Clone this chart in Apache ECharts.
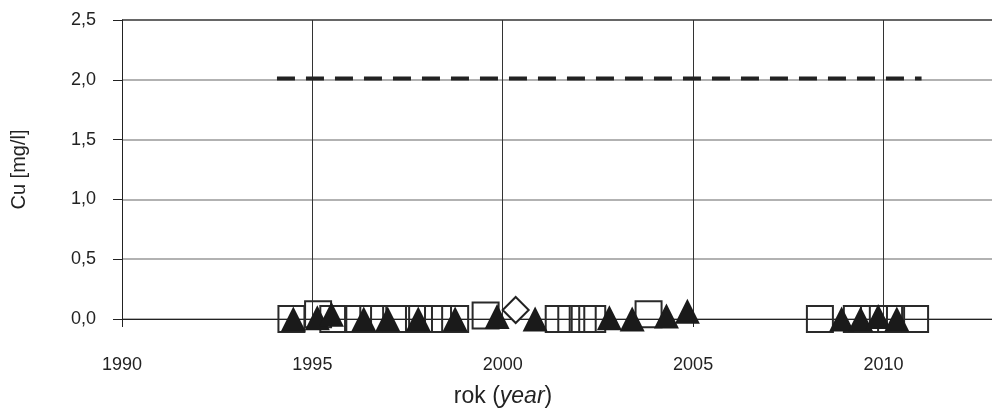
<!DOCTYPE html>
<html>
<head>
<meta charset="utf-8">
<script src="https://cdn.jsdelivr.net/npm/echarts@6/dist/echarts.min.js"></script>
<style>
  html, body { margin: 0; padding: 0; background: #fff; }
  #chart { width: 992px; height: 409px; }
</style>
</head>
<body>
<div id="chart"></div>
<script>
const squareYears = [1994.45, 1995.15, 1995.55, 1996.2, 1996.6, 1997.2, 1997.8, 1998.3, 1998.75, 1999.55,
                     2001.47, 2001.8, 2002.1, 2002.35, 2003.83, 2008.33, 2009.3, 2009.75, 2010.2, 2010.83];
const squareVals  = [0, 0.04, 0, 0, 0, 0, 0, 0, 0, 0.03,
                     0, 0, 0, 0, 0.04, 0, 0, 0, 0, 0];
const triangleYears = [1994.5, 1995.13, 1995.5, 1996.35, 1996.98, 1997.78, 1998.75, 1999.85, 2000.85,
                       2002.8, 2003.4, 2004.3, 2004.85, 2008.9, 2009.4, 2009.86, 2010.35];
const triangleVals  = [0, 0.01, 0.04, 0, 0, 0, 0, 0.02, 0,
                       0.01, 0, 0.025, 0.065, 0, 0, 0.02, 0];
const diamondYears = [2000.34];
const diamondVals  = [0.075];
// limit value line
const limitYears = [1994.07, 2011.0];
const limitVals  = [2.01, 2.01];

const pairs = (xs, ys) => xs.map((x, i) => [x, ys[i]]);
const font = 'Liberation Sans, Arial, sans-serif';

var myChart = echarts.init(document.getElementById('chart'));
myChart.setOption({
    animation: false,
    grid: { left: 122, right: 0, top: 20, bottom: 90 },
    xAxis: {
        type: 'value',
        min: 1990, max: 2012.85, interval: 5,
        axisLine: { onZero: false, lineStyle: { color: '#222', width: 1 } },
        axisTick: { show: true, length: 8, lineStyle: { color: '#222' } },
        axisLabel: {
            margin: 37, color: '#222', fontSize: 18, fontFamily: font,
            showMaxLabel: false,
            formatter: v => (v % 5 === 0 ? String(v) : '')
        },
        splitLine: { show: true, showMaxLine: false, lineStyle: { color: '#333', width: 1 } }
    },
    yAxis: {
        type: 'value',
        min: 0, max: 2.5, interval: 0.5,
        name: 'Cu [mg/l]',
        nameLocation: 'middle',
        nameGap: 93,
        nameTextStyle: { color: '#222', fontSize: 20, fontFamily: font },
        axisLine: { show: true, lineStyle: { color: '#222', width: 1 } },
        axisTick: { show: true, length: 9, lineStyle: { color: '#222' } },
        axisLabel: {
            margin: 26, color: '#222', fontSize: 18, fontFamily: font,
            formatter: v => v.toFixed(1).replace('.', ',')
        },
        splitLine: {
            show: true,
            lineStyle: { color: ['#999', '#999', '#999', '#999', '#999', '#333'], width: 1.5 }
        }
    },
    graphic: [{
        type: 'text',
        x: 503, y: 397,
        style: {
            text: 'rok ({i|year})',
            align: 'center', verticalAlign: 'middle',
            fill: '#222', fontSize: 23, fontFamily: font,
            rich: { i: { fontStyle: 'italic', fontSize: 23, fontFamily: font, fill: '#222' } }
        }
    }],
    series: [{
        name: 'limit',
        type: 'line',
        data: pairs(limitYears, limitVals),
        symbol: 'none',
        z: 2,
        lineStyle: { color: '#222', width: 4, type: [18, 11] }
    }, {
        name: 'squares',
        type: 'scatter',
        clip: false,
        data: pairs(squareYears, squareVals),
        symbol: 'rect',
        symbolSize: 26,
        z: 3,
        itemStyle: { color: 'rgba(0,0,0,0)', borderColor: '#2a2a2a', borderWidth: 2, opacity: 1 }
    }, {
        name: 'diamond',
        type: 'scatter',
        clip: false,
        data: pairs(diamondYears, diamondVals),
        symbol: 'diamond',
        symbolSize: [26, 26],
        z: 4,
        itemStyle: { color: '#fff', borderColor: '#222', borderWidth: 2, opacity: 1 }
    }, {
        name: 'triangles',
        type: 'scatter',
        clip: false,
        data: pairs(triangleYears, triangleVals),
        symbol: 'triangle',
        symbolSize: 25,
        z: 5,
        itemStyle: { color: '#1a1a1a', opacity: 1 }
    }]
});
</script>
</body>
</html>
